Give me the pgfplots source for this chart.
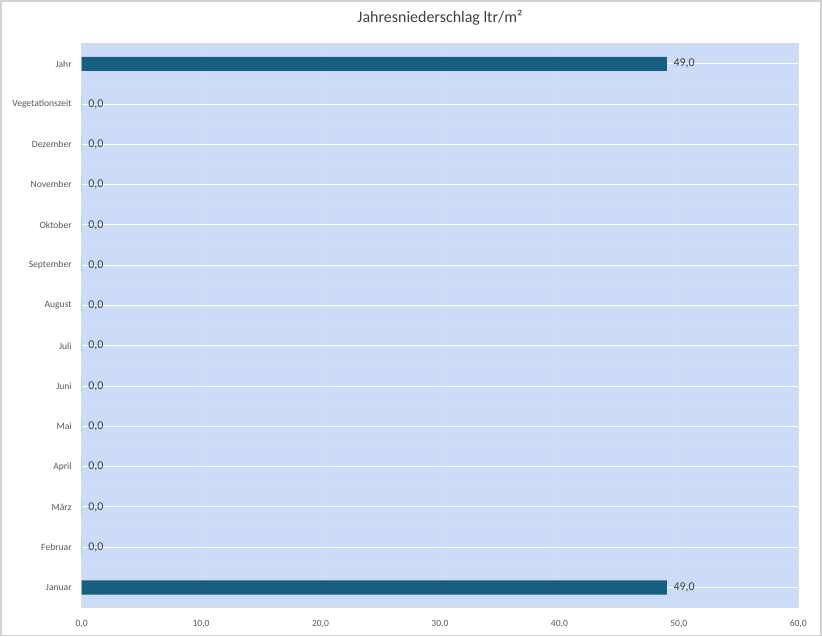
\documentclass[border=0pt]{standalone}
\usepackage{pgfplots}
\pgfplotsset{compat=1.18}
\usepackage{fontspec}
\setmainfont{Carlito}
\definecolor{barc}{RGB}{24,94,128}
\definecolor{bgc}{RGB}{204,219,248}
\definecolor{gridc}{RGB}{218,220,232}
\definecolor{txtc}{RGB}{89,89,89}
\definecolor{lblc}{RGB}{64,64,64}
\begin{document}
\begin{tikzpicture}[x=0.75pt,y=0.75pt]
% outer frame of the chart (822 x 636 px)
\draw[fill=white,draw=gray!35,line width=1.2pt] (-81*0.75pt,-28*0.75pt) rectangle (741*0.75pt,608*0.75pt);
\begin{axis}[
    at={(0pt,0pt)}, anchor=south west,
    scale only axis,
    width=718*0.75pt, height=565*0.75pt,
    xbar, bar width=0.35,
    xmin=0, xmax=60,
    ymin=-0.5, ymax=13.5,
    xtick={0,10,...,60},
    ytick={0,...,13},
    yticklabels={Januar,Februar,März,April,Mai,Juni,Juli,August,September,Oktober,November,Dezember,Vegetationszeit,Jahr},
    minor ytick={-0.5,0.5,...,13.5},
    major tick length=0pt, minor tick length=0pt,
    xmajorgrids, ymajorgrids, yminorgrids,
    major grid style={draw=white, line width=0.7pt},
    minor grid style={draw=gridc, line width=0.5pt},
    x grid style={draw=gridc, line width=0.4pt},
    axis line style={draw=gridc},
    axis background/.style={fill=bgc},
    tick label style={font=\fontsize{7.2}{8}\selectfont, text=txtc},
    xticklabel style={/pgf/number format/.cd, fixed, fixed zerofill, precision=1, use comma, assume math mode=true},
    xtick pos=bottom,
    xticklabel shift=6pt,
    yticklabel shift=4pt,
    title={Jahresniederschlag ltr/m²},
    title style={font=\fontsize{12}{14}\selectfont, text=lblc, yshift=4pt},
    nodes near coords,
    nodes near coords align={horizontal},
    every node near coord/.append style={font=\fontsize{9}{10}\selectfont, text=lblc, anchor=west, xshift=1.5pt,
      /pgf/number format/.cd, fixed, fixed zerofill, precision=1, use comma, assume math mode=true},
]
\addplot[fill=barc, draw=none] coordinates {
  (49,0) (0,1) (0,2) (0,3) (0,4) (0,5) (0,6) (0,7) (0,8) (0,9) (0,10) (0,11) (0,12) (49,13)
};
\end{axis}
\end{tikzpicture}
\end{document}
